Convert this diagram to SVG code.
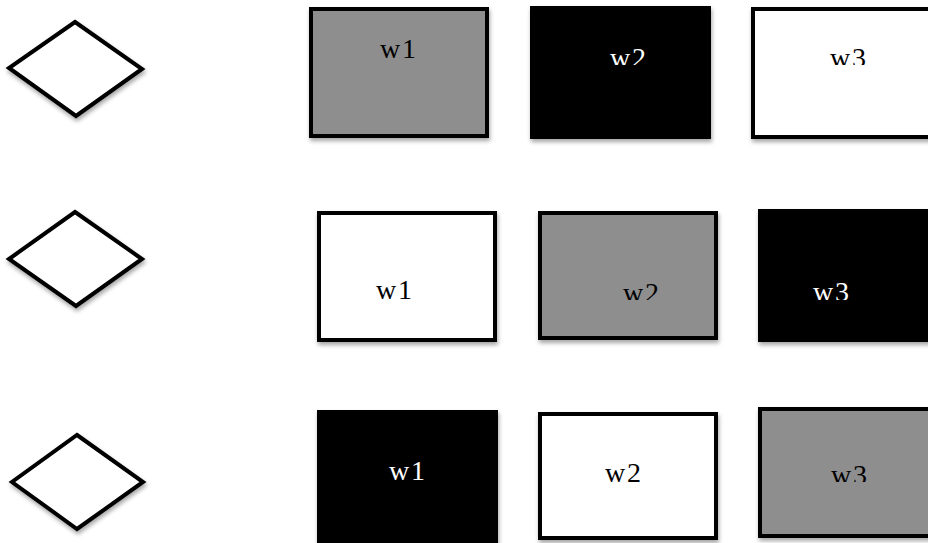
<svg xmlns="http://www.w3.org/2000/svg" width="928" height="543" viewBox="0 0 928 543">
<style>
.dia{fill:#fff;stroke:#000;stroke-width:4;stroke-linejoin:miter}
.box{stroke:#000;stroke-width:4}
.g{fill:#8e8e8e}.w{fill:#fff}.k{fill:#000}
.t{font-family:"Liberation Serif","Times New Roman",serif;font-size:28px;letter-spacing:2px;text-anchor:middle}
.tw{fill:#fff}.tk{fill:#000}
</style>
<defs>
<filter id="sh" x="-10%" y="-10%" width="125%" height="130%">
<feDropShadow dx="1" dy="3" stdDeviation="2" flood-color="#000" flood-opacity="0.35"/>
</filter>
<clipPath id="c1"><rect x="0" y="0" width="928" height="65"/></clipPath>
<clipPath id="c2"><rect x="0" y="200" width="928" height="100"/></clipPath>
<clipPath id="c3"><rect x="0" y="400" width="928" height="82"/></clipPath>
</defs>
<g id="d1"><polygon class="dia" filter="url(#sh)" points="75,22 142,69 76,116 9,68"/></g>
<g id="d2"><polygon class="dia" filter="url(#sh)" points="75,212 142,259 76,306 9,259"/></g>
<g id="d3"><polygon class="dia" filter="url(#sh)" points="77,435 143,482 77,529 12,482"/></g>

<g id="r1w1"><rect class="box g" filter="url(#sh)" x="311" y="9" width="176" height="127"/><text class="t tk" x="399" y="58">w1</text></g>
<g id="r1w2"><rect class="k" filter="url(#sh)" x="530" y="6" width="181" height="133"/><text class="t tw" x="629" y="66.5" clip-path="url(#c1)">w2</text></g>
<g id="r1w3"><rect class="box w" filter="url(#sh)" x="753" y="9" width="200" height="128"/><text class="t tk" x="849" y="66.5" clip-path="url(#c1)">w3</text></g>

<g id="r2w1"><rect class="box w" filter="url(#sh)" x="319" y="213" width="176" height="127"/><text class="t tk" x="395" y="299">w1</text></g>
<g id="r2w2"><rect class="box g" filter="url(#sh)" x="540" y="213" width="176" height="125"/><text class="t tk" x="642" y="301.5" clip-path="url(#c2)">w2</text></g>
<g id="r2w3"><rect class="k" filter="url(#sh)" x="758" y="209" width="200" height="133"/><text class="t tw" x="832" y="301" clip-path="url(#c2)">w3</text></g>

<g id="r3w1"><rect class="k" filter="url(#sh)" x="317" y="410" width="181" height="140"/><text class="t tw" x="408" y="480">w1</text></g>
<g id="r3w2"><rect class="box w" filter="url(#sh)" x="540" y="414" width="176" height="124"/><text class="t tk" x="624" y="482">w2</text></g>
<g id="r3w3"><rect class="box g" filter="url(#sh)" x="760" y="409" width="200" height="127"/><text class="t tk" x="850" y="484" clip-path="url(#c3)">w3</text></g>
<g id="connectors"></g>
</svg>
